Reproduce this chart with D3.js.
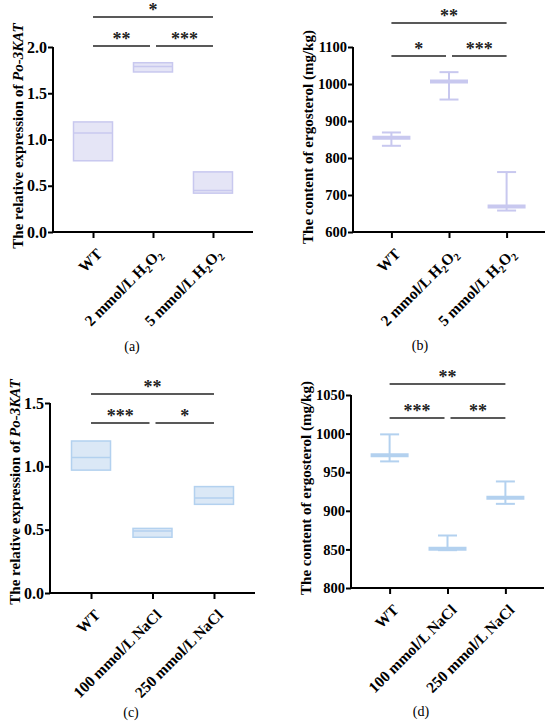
<!DOCTYPE html>
<html>
<head>
<meta charset="utf-8">
<script src="https://d3js.org/d3.v7.min.js"></script>
<style>
  body { margin: 0; background: #fff; }
  svg { display: block; }
  text { font-family: "Liberation Serif", "Times New Roman", serif; }
</style>
</head>
<body>
<svg id="chart" width="550" height="723"></svg>
<script>
// groups
var groupsH2O2 = ["WT", "2 mmol/L H2O2", "5 mmol/L H2O2"];
var groupsNaCl = ["WT", "100 mmol/L NaCl", "250 mmol/L NaCl"];

// (a) Po-3KAT expression, H2O2 (floating bar min-max, line at mean)
var katH2O2Min = [0.77, 1.73, 0.42];
var katH2O2Max = [1.19, 1.83, 0.65];
var katH2O2Mean = [1.07, 1.79, 0.45];

// (b) ergosterol, H2O2 (mean with range)
var ergH2O2Mean = [855, 1007, 669];
var ergH2O2Min = [833, 958, 658];
var ergH2O2Max = [869, 1032, 762];

// (c) Po-3KAT expression, NaCl
var katNaClMin = [0.97, 0.44, 0.70];
var katNaClMax = [1.20, 0.51, 0.84];
var katNaClMean = [1.07, 0.49, 0.75];

// (d) ergosterol, NaCl
var ergNaClMean = [972, 851, 917];
var ergNaClMin = [964, 849, 909];
var ergNaClMax = [999, 868, 938];

// significance: [from, to, stars]
var sigA = [[0, 2, "*"], [0, 1, "**"], [1, 2, "***"]];
var sigB = [[0, 2, "**"], [0, 1, "*"], [1, 2, "***"]];
var sigC = [[0, 2, "**"], [0, 1, "***"], [1, 2, "*"]];
var sigD = [[0, 2, "**"], [0, 1, "***"], [1, 2, "**"]];

// ticks
var ticksKatA = [0, 0.5, 1.0, 1.5, 2.0];
var ticksErgB = [600, 700, 800, 900, 1000, 1100];
var ticksKatC = [0, 0.5, 1.0, 1.5];
var ticksErgD = [800, 850, 900, 950, 1000, 1050];

var purple = { fill: "#e5e5f6", stroke: "#c8c8ef" };
var blue = { fill: "#dbe8f6", stroke: "#b3d1ef" };

var svg = d3.select("#chart");

// writes "H2O2" with subscripts
function richLabel(sel, str) {
  var parts = str.split(/(?<=[HO])(2)/);
  parts.forEach(function(p, i) {
    if (p === "") return;
    if (i % 2 == 1) {
      sel.append("tspan").attr("font-size", "10.5px").attr("dy", "3.5").text(p);
    } else {
      sel.append("tspan").attr("dy", i > 0 ? "-3.5" : "0").text(p);
    }
  });
}

function drawPanel(o) {
  var g = svg.append("g");
  var x = d3.scalePoint().domain(o.groups).range([o.left, o.right]).padding(0.667);
  var y = d3.scaleLinear().domain(o.domain).range([o.bottom, o.top]);

  // y axis
  var ya = g.append("g")
    .attr("transform", "translate(" + o.left + ",0)")
    .call(d3.axisLeft(y).tickValues(o.ticks).tickSize(5).tickPadding(1)
      .tickFormat(o.fmt));
  ya.select(".domain").attr("stroke-width", 2).attr("d", "M0," + (o.bottom + 1) + "V" + o.top);
  ya.selectAll(".tick line").attr("stroke-width", 2);
  ya.selectAll(".tick text").attr("font-family", "Liberation Serif").attr("font-weight", "bold")
    .attr("font-size", o.tickSize).attr("fill", "#000");

  // x axis
  var xa = g.append("g")
    .attr("transform", "translate(0," + o.bottom + ")")
    .call(d3.axisBottom(x).tickSize(6).tickFormat(""));
  xa.select(".domain").attr("stroke-width", 2).attr("d", "M" + (o.left - 1) + ",0H" + o.right);
  xa.selectAll(".tick line").attr("stroke-width", 2);

  o.groups.forEach(function(name) {
    var t = g.append("text")
      .attr("transform", "translate(" + (x(name) + 10) + "," + (o.bottom + 23) + ") rotate(-45)")
      .attr("text-anchor", "end")
      .attr("font-weight", "bold")
      .attr("font-size", "15.5px");
    richLabel(t, name);
  });

  // y title
  var yt = g.append("text")
    .attr("transform", "translate(" + o.titleX + "," + o.titleY + ") rotate(-90)")
    .attr("text-anchor", "middle")
    .attr("font-weight", "bold")
    .attr("font-size", "15px");
  yt.append("tspan").text(o.title);
  if (o.titleItalic) yt.append("tspan").attr("font-style", "italic").text(o.titleItalic);

  // marks
  if (o.kind == "box") {
    var bw = 39;
    g.selectAll(".box").data(o.groups).enter().append("rect")
      .attr("x", function(d) { return x(d) - bw / 2; })
      .attr("y", function(d, i) { return y(o.max[i]); })
      .attr("width", bw)
      .attr("height", function(d, i) { return y(o.min[i]) - y(o.max[i]); })
      .attr("fill", o.color.fill)
      .attr("stroke", o.color.stroke)
      .attr("stroke-width", 1.5);
    g.selectAll(".mean").data(o.groups).enter().append("line")
      .attr("x1", function(d) { return x(d) - bw / 2; })
      .attr("x2", function(d) { return x(d) + bw / 2; })
      .attr("y1", function(d, i) { return y(o.mean[i]); })
      .attr("y2", function(d, i) { return y(o.mean[i]); })
      .attr("stroke", o.color.stroke)
      .attr("stroke-width", 1.5);
  } else {
    var mw = 38, cw = 19;
    var eb = g.selectAll(".eb").data(o.groups).enter().append("g").attr("stroke", o.color.stroke);
    eb.append("line")
      .attr("x1", function(d) { return x(d); }).attr("x2", function(d) { return x(d); })
      .attr("y1", function(d, i) { return y(o.max[i]); })
      .attr("y2", function(d, i) { return y(o.min[i]); })
      .attr("stroke-width", 2);
    eb.append("line")
      .attr("x1", function(d) { return x(d) - cw / 2; }).attr("x2", function(d) { return x(d) + cw / 2; })
      .attr("y1", function(d, i) { return y(o.max[i]); })
      .attr("y2", function(d, i) { return y(o.max[i]); })
      .attr("stroke-width", 2);
    eb.append("line")
      .attr("x1", function(d) { return x(d) - cw / 2; }).attr("x2", function(d) { return x(d) + cw / 2; })
      .attr("y1", function(d, i) { return y(o.min[i]); })
      .attr("y2", function(d, i) { return y(o.min[i]); })
      .attr("stroke-width", 2);
    eb.append("line")
      .attr("x1", function(d) { return x(d) - mw / 2; }).attr("x2", function(d) { return x(d) + mw / 2; })
      .attr("y1", function(d, i) { return y(o.mean[i]); })
      .attr("y2", function(d, i) { return y(o.mean[i]); })
      .attr("stroke-width", 4);
  }

  // significance brackets
  o.sig.forEach(function(s, k) {
    var ly = k == 0 ? o.sigTop : o.sigLow;
    var x1 = x(o.groups[s[0]]), x2 = x(o.groups[s[1]]);
    if (k == 1) x2 -= 3;
    if (k == 2) x1 += 3;
    g.append("line").attr("x1", x1).attr("x2", x2).attr("y1", ly).attr("y2", ly)
      .attr("stroke", "#222").attr("stroke-width", 1.5);
    g.append("text")
      .attr("x", (x1 + x2) / 2).attr("y", ly - 1)
      .attr("text-anchor", "middle")
      .attr("font-family", "Liberation Sans")
      .attr("font-weight", "bold")
      .attr("font-size", "18px")
      .attr("fill", "#222")
      .text(s[2]);
  });

  // caption
  svg.append("text")
    .attr("x", o.capX).attr("y", o.capY)
    .attr("text-anchor", "middle")
    .attr("font-size", "14px")
    .text(o.cap);
}

drawPanel({
  groups: groupsH2O2, kind: "box", min: katH2O2Min, max: katH2O2Max, mean: katH2O2Mean,
  domain: [0, 2], ticks: ticksKatA, fmt: d3.format(".1f"), color: purple, sig: sigA,
  left: 53, right: 253, top: 47, bottom: 232, sigTop: 17, sigLow: 46, tickSize: "16px",
  title: "The relative expression of ", titleItalic: "Po-3KAT", titleX: 23, titleY: 136,
  cap: "(a)", capX: 132, capY: 351
});

drawPanel({
  groups: groupsH2O2, kind: "err", min: ergH2O2Min, max: ergH2O2Max, mean: ergH2O2Mean,
  domain: [600, 1100], ticks: ticksErgB, fmt: d3.format("d"), color: purple, sig: sigB,
  left: 353, right: 545, top: 47, bottom: 232, sigTop: 23, sigLow: 56, tickSize: "14.5px",
  title: "The content of ergosterol (mg/kg)", titleX: 313, titleY: 137,
  cap: "(b)", capX: 420, capY: 350
});

drawPanel({
  groups: groupsNaCl, kind: "box", min: katNaClMin, max: katNaClMax, mean: katNaClMean,
  domain: [0, 1.5], ticks: ticksKatC, fmt: d3.format(".1f"), color: blue, sig: sigC,
  left: 50, right: 255, top: 403, bottom: 593, sigTop: 394, sigLow: 423, tickSize: "16px",
  title: "The relative expression of ", titleItalic: "Po-3KAT", titleX: 20, titleY: 492,
  cap: "(c)", capX: 131, capY: 717
});

drawPanel({
  groups: groupsNaCl, kind: "err", min: ergNaClMin, max: ergNaClMax, mean: ergNaClMean,
  domain: [800, 1050], ticks: ticksErgD, fmt: d3.format("d"), color: blue, sig: sigD,
  left: 351, right: 544, top: 395, bottom: 588, sigTop: 384, sigLow: 418, tickSize: "14.5px",
  title: "The content of ergosterol (mg/kg)", titleX: 311, titleY: 488,
  cap: "(d)", capX: 421, capY: 716
});
</script>
</body>
</html>
